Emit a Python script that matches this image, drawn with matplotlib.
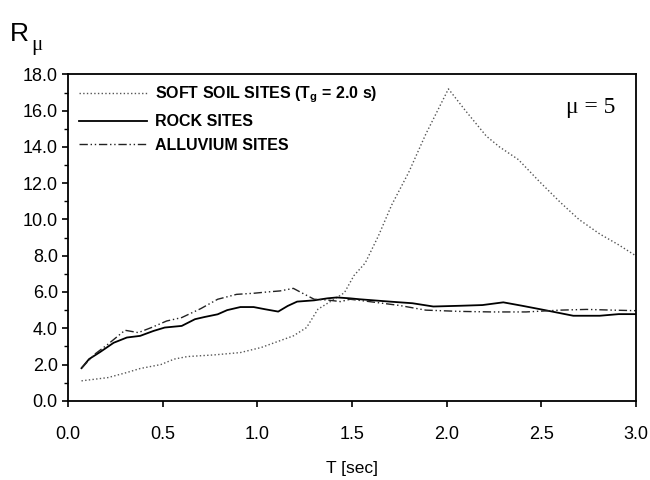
import matplotlib
matplotlib.use('Agg')
import matplotlib.pyplot as plt

plt.rcParams['font.family'] = ['Liberation Sans', 'DejaVu Sans']

# soft soil sites (Tg = 2.0 s)
soft_T = [0.07, 0.21, 0.31, 0.38, 0.49, 0.56, 0.63, 0.77, 0.91, 1.02, 1.19, 1.26,
          1.32, 1.39, 1.46, 1.51, 1.57, 1.64, 1.71, 1.80, 1.89, 2.01, 2.10, 2.21,
          2.28, 2.38, 2.49, 2.60, 2.70, 2.81, 2.91, 3.00]
soft_R = [1.1, 1.28, 1.56, 1.78, 2.0, 2.3, 2.44, 2.53, 2.66, 2.94, 3.58, 4.04,
          5.05, 5.5, 5.96, 6.9, 7.6, 9.1, 10.8, 12.6, 14.7, 17.2, 16.0, 14.6,
          14.0, 13.3, 12.1, 10.96, 10.0, 9.2, 8.6, 8.0]

# rock sites
rock_T = [0.07, 0.11, 0.17, 0.24, 0.31, 0.38, 0.45, 0.51, 0.60, 0.67, 0.72, 0.79,
          0.84, 0.91, 0.98, 1.04, 1.11, 1.16, 1.21, 1.30, 1.37, 1.42, 1.49, 1.54,
          1.70, 1.82, 1.93, 2.07, 2.19, 2.30, 2.40, 2.52, 2.67, 2.81, 2.91, 3.00]
rock_R = [1.8, 2.3, 2.7, 3.2, 3.49, 3.58, 3.85, 4.04, 4.13, 4.5, 4.62, 4.77,
          5.0, 5.17, 5.17, 5.05, 4.92, 5.23, 5.47, 5.54, 5.65, 5.7, 5.65, 5.6,
          5.47, 5.38, 5.2, 5.24, 5.28, 5.43, 5.24, 5.0, 4.69, 4.69, 4.78, 4.78]

# alluvium sites
allu_T = [0.07, 0.14, 0.21, 0.30, 0.37, 0.44, 0.52, 0.60, 0.70, 0.79, 0.89, 0.98,
          1.05, 1.12, 1.19, 1.25, 1.30, 1.37, 1.44, 1.49, 1.57, 1.75, 1.89, 2.07,
          2.24, 2.42, 2.60, 2.74, 2.88, 3.00]
allu_R = [1.8, 2.57, 3.12, 3.89, 3.76, 4.04, 4.4, 4.59, 5.08, 5.6, 5.87, 5.93,
          6.0, 6.06, 6.2, 5.87, 5.6, 5.56, 5.47, 5.6, 5.5, 5.26, 5.0, 4.93,
          4.9, 4.9, 5.0, 5.04, 5.0, 4.97]

x_ticks = [0.0, 0.5, 1.0, 1.5, 2.0, 2.5, 3.0]
y_ticks = [0, 2, 4, 6, 8, 10, 12, 14, 16, 18]

fig = plt.figure(figsize=(6.5, 4.8), dpi=100)
ax = fig.add_axes([0.105, 0.165, 0.873, 0.68])

ax.plot(soft_T, soft_R, ls=':', color='#555555', lw=1.0, label='SOFT SOIL SITES (T$_\\mathregular{g}$ = 2.0 s)')
ax.plot(rock_T, rock_R, ls='-', color='black', lw=1.3, label='ROCK SITES')
ax.plot(allu_T, allu_R, ls=(0, (6, 2, 1, 2, 1, 2)), color='#222222', lw=1.0, label='ALLUVIUM SITES')

ax.set_xlim(0, 3.0)
ax.set_ylim(0, 18)
ax.set_xticks(x_ticks)
ax.set_xticklabels(['%.1f' % v for v in x_ticks], fontsize=13)
ax.set_yticks(y_ticks)
ax.set_yticklabels(['%.1f' % v for v in y_ticks], fontsize=13)
ax.set_yticks(range(1, 18, 2), minor=True)
ax.tick_params(direction='out', length=4, width=1.2)
ax.tick_params(which='minor', direction='out', length=3, width=1.0)
ax.tick_params(axis='x', pad=14)
for s in ax.spines.values():
    s.set_linewidth(1.3)

ax.set_xlabel('T [sec]', fontsize=12.5, labelpad=13)
fig.text(0.015, 0.915, 'R', fontsize=19)
fig.text(0.048, 0.895, 'μ', fontsize=15, family='Liberation Serif')
ax.text(2.76, 16.2, 'μ = 5', family='Liberation Serif', fontsize=17,
        ha='center', va='center')

ax.legend(loc='upper left', frameon=False, prop={'size': 11.5, 'weight': 'bold'},
          handlelength=4.3, labelspacing=0.55, borderaxespad=0.25, handletextpad=0.5)

plt.savefig('out.png', dpi=100)
